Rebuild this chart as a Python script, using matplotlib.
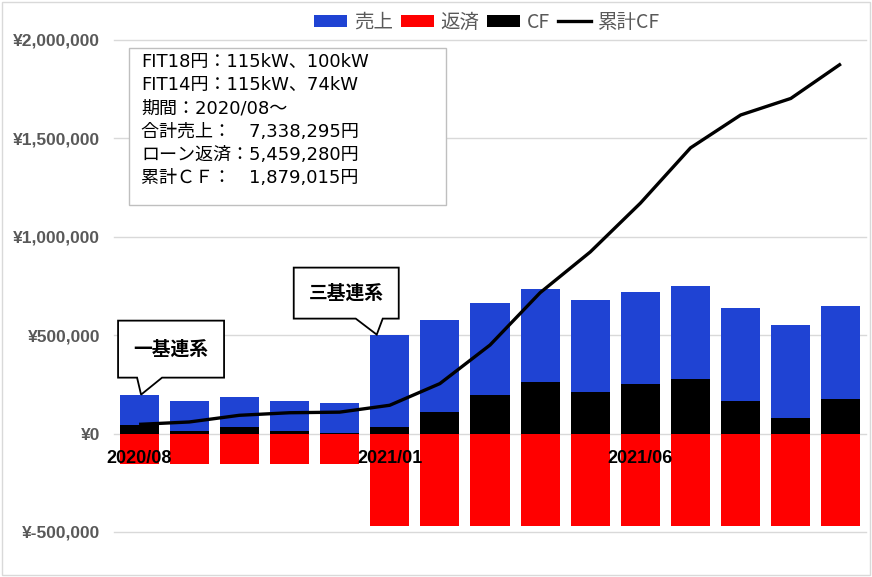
import matplotlib
matplotlib.use("Agg")
import matplotlib.pyplot as plt
import matplotlib.ticker as tkr
import matplotlib.transforms as mtransforms
from matplotlib.patches import Polygon, Rectangle, Patch
from matplotlib.lines import Line2D
import numpy as np

months = ["2020/08", "2020/09", "2020/10", "2020/11", "2020/12",
          "2021/01", "2021/02", "2021/03", "2021/04", "2021/05",
          "2021/06", "2021/07", "2021/08", "2021/09", "2021/10"]
sales = [198000, 166000, 186000, 166000, 156000, 503000, 579000, 666000,
         733000, 680000, 721000, 748000, 636000, 550000, 646000]
repay = [-152000, -152000, -152000, -152000, -152000, -469928, -469928, -469928,
         -469928, -469928, -469928, -469928, -469928, -469928, -469928]
cf = [46000, 14000, 34000, 14000, 4000, 33000, 109000, 196000,
      263000, 210000, 251000, 278000, 166000, 80000, 176000]
cum_cf = [47000, 59000, 93000, 106000, 109000, 144000, 254000, 450000,
          716000, 923000, 1171000, 1452000, 1619000, 1703000, 1879015]
shown_months = ["2020/08", "2021/01", "2021/06"]
info_lines = ["FIT18円：115kW、100kW",
              "FIT14円：115kW、74kW",
              "期間：2020/08～",
              "合計売上：　7,338,295円",
              "ローン返済：5,459,280円",
              "累計ＣＦ：　1,879,015円"]

BLUE = "#1F43D3"
RED = "#FF0000"
GRAY = "#595959"
GRID = "#D9D9D9"
JP = ["Noto Sans CJK JP", "DejaVu Sans"]

fig = plt.figure(figsize=(8.72, 5.77), dpi=100)
ax = fig.add_axes([114 / 872, 1 - 532 / 577, 752 / 872, 492 / 577])

x = np.arange(len(months))
w = 0.78
ax.bar(x, sales, w, color=BLUE, zorder=2)
ax.bar(x, cf, w, color="black", zorder=3)
ax.bar(x, repay, w, color=RED, zorder=2)
ax.plot(x, cum_cf, color="black", lw=2.4, zorder=4, solid_capstyle="butt")

ax.set_xlim(-0.5, len(months) - 0.5)
ax.set_ylim(-500000, 2000000)
ax.yaxis.set_major_locator(tkr.MultipleLocator(500000))
ax.yaxis.set_major_formatter(tkr.FuncFormatter(lambda v, p: "¥{:,.0f}".format(v)))
for v in ax.get_yticks():
  if -500000 <= v <= 2000000:
    ax.axhline(v, color=GRID, lw=1.0, zorder=0, clip_on=False)
ax.set_xticks([])
ax.tick_params(axis="y", length=0, pad=10)
for lab in ax.get_yticklabels():
  lab.set_fontfamily("Liberation Sans")
  lab.set_fontweight("bold")
  lab.set_fontsize(12.5)
  lab.set_color(GRAY)
for s in ax.spines.values():
  s.set_visible(False)

# category labels sitting just under the zero line
for m in shown_months:
  i = months.index(m)
  ax.annotate(m, (i, 0), xytext=(0, -25), textcoords="offset pixels",
              ha="center", va="center", fontsize=13, fontweight="bold",
              family="Liberation Sans", color="black", zorder=6)

# callouts attached to bar tops
def callout(i, dx, left, right, bottom, top, b0, b1, label):
  tr = mtransforms.Affine2D().translate(dx, 0) + mtransforms.ScaledTranslation(i, sales[i], ax.transData)
  pts = [(left, top), (right, top), (right, bottom), (b1, bottom), (0, 0),
         (b0, bottom), (left, bottom)]
  poly = Polygon(pts, closed=True, facecolor="white", edgecolor="black",
                 lw=1.3, transform=tr, zorder=7, clip_on=False)
  ax.add_patch(poly)
  ax.text((left + right) / 2, (top + bottom) / 2, label, transform=tr,
          ha="center", va="center", fontsize=13.5, fontweight="bold",
          family=JP, zorder=8)

callout(0, 2, -23, 83, 17, 74, -4, 21, "一基連系")
callout(5, -13, -83, 22, 16, 67, -21, 6, "三基連系")

# info box
fig.patches.append(Rectangle((129 / 872, 1 - 205 / 577), 317 / 872, 157 / 577,
                             transform=fig.transFigure, facecolor="white",
                             edgecolor="#BFBFBF", lw=1.0, zorder=5))
fig.text(141 / 872, 1 - 53 / 577, "\n".join(info_lines), ha="left", va="top",
         fontsize=13, family=["DejaVu Sans", "Noto Sans CJK JP"],
         linespacing=1.37, color="black", zorder=6)

# chart border
fig.patches.append(Rectangle((0.002, 0.003), 0.996, 0.994, transform=fig.transFigure,
                             facecolor="none", edgecolor=GRID, lw=1.0))

handles = [Patch(facecolor=BLUE), Patch(facecolor=RED), Patch(facecolor="black"),
           Line2D([0], [0], color="black", lw=2.4)]
leg = fig.legend(handles, ["売上", "返済", "CF", "累計CF"], loc="center",
                 bbox_to_anchor=(487 / 872, 1 - 22 / 577), ncol=4, frameon=False,
                 prop={"family": JP, "size": 14}, handlelength=1.7,
                 handleheight=0.57, handletextpad=0.35, columnspacing=0.4,
                 borderpad=0)
for t in leg.get_texts():
  t.set_color(GRAY)

fig.savefig("out.png", dpi=100)
